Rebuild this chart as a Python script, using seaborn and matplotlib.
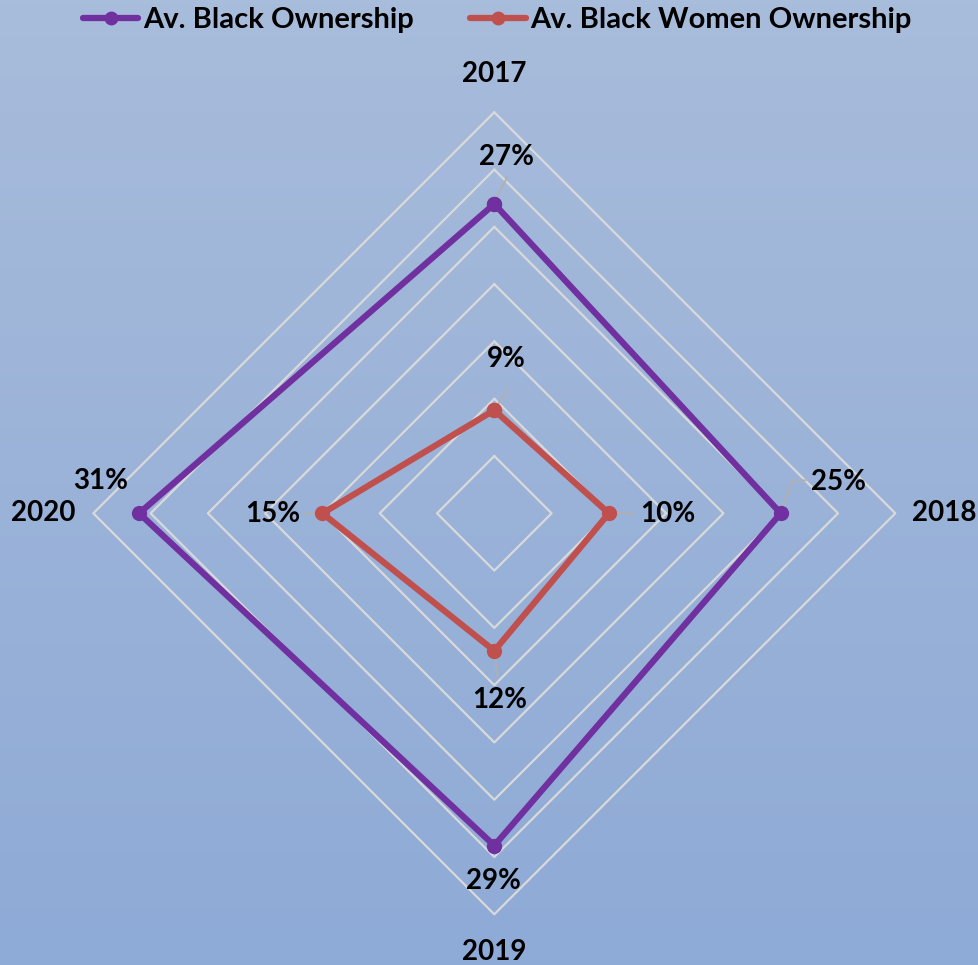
import numpy as np
import pandas as pd
import matplotlib
matplotlib.use("Agg")
import matplotlib.pyplot as plt
import seaborn as sns
from matplotlib.lines import Line2D
from matplotlib.colors import LinearSegmentedColormap

# chart data
years = ["2017", "2018", "2019", "2020"]
black_ownership = [0.27, 0.25, 0.29, 0.31]
black_women_ownership = [0.09, 0.10, 0.12, 0.15]
series_names = ["Av. Black Ownership", "Av. Black Women Ownership"]
grid_levels = [0.05, 0.10, 0.15, 0.20, 0.25, 0.30, 0.35]

sns.set_theme(style="white")
plt.rcParams['font.family'] = ['Lato', 'DejaVu Sans']
plt.rcParams['text.color'] = 'black'

W, H = 979, 965
CX, CY = 494.3, 513.3          # centre of radar in pixels (from top-left)
K = 401 / 0.35                 # pixels per unit of value

fig = plt.figure(figsize=(W / 100, H / 100), dpi=100)

# background gradient
bg = fig.add_axes([0, 0, 1, 1], zorder=0)
cmap = LinearSegmentedColormap.from_list("bg", ["#a8bcdb", "#8eaad6"])
bg.imshow(np.linspace(0, 1, 256).reshape(-1, 1), aspect="auto", cmap=cmap,
          extent=[0, 1, 0, 1])
bg.set_axis_off()

ax = fig.add_axes([0, 0, 1, 1], zorder=1)
ax.patch.set_alpha(0)
ax.set_xlim(-CX / K, (W - CX) / K)
ax.set_ylim(-(H - CY) / K, CY / K)
ax.set_axis_off()

# angles: 2017 top, then clockwise
angles = np.pi / 2 - np.arange(len(years)) * 2 * np.pi / len(years)


def to_xy(vals):
    v = np.asarray(vals)
    return v * np.cos(angles), v * np.sin(angles)


# diamond grid
for lv in grid_levels:
    gx, gy = to_xy([lv] * len(years))
    ax.plot(np.append(gx, gx[0]), np.append(gy, gy[0]), color="#d9d9d9",
            lw=1.6, zorder=1)

# build long table for seaborn (closed polygons)
rows = []
for name, vals in zip(series_names, [black_ownership, black_women_ownership]):
    xs, ys = to_xy(vals)
    for i in list(range(len(years))) + [0]:
        rows.append({"series": name, "year": years[i], "value": vals[i],
                     "x": xs[i], "y": ys[i]})
df = pd.DataFrame(rows)

palette = {"Av. Black Ownership": "#7030a0",
           "Av. Black Women Ownership": "#c0504d"}

sns.lineplot(data=df, x="x", y="y", hue="series", sort=False, estimator=None,
             palette=palette, marker="o", markersize=11, markeredgewidth=0,
             lw=4.5, ax=ax, zorder=3, legend=False)

# category labels outside the grid (offsets in pixels)
cat_offsets = [(0, 38), (49, 0), (0, -38), (-50, 0)]
ox, oy = to_xy([0.35] * len(years))
for i, yr in enumerate(years):
    dx, dy = cat_offsets[i]
    ax.text(ox[i] + dx / K, oy[i] + dy / K, yr, ha="center", va="center",
            fontsize=20, fontweight="bold", color="black", zorder=5)

# data labels: (label offset px, leader points px)
label_style = {
    "Av. Black Ownership": [
        ((12, 47), [(1, 4), (13, 27)]),
        ((58, 31), [(-1, 0), (12, 33), (25, 33)]),
        ((-1, -35), None),
        ((-38, 32), None),
    ],
    "Av. Black Women Ownership": [
        ((12, 51), [(1, 2), (13, 20)]),
        ((59, -1), [(-2, 0), (24, 0)]),
        ((5, -49), [(0, 0), (3, -26)]),
        ((-50, -1), [(0, 0), (-17, 0)]),
    ],
}
for name, vals in zip(series_names, [black_ownership, black_women_ownership]):
    xs, ys = to_xy(vals)
    for i, v in enumerate(vals):
        (dx, dy), leader = label_style[name][i]
        if leader:
            lx = [xs[i] + p[0] / K for p in leader]
            ly = [ys[i] + p[1] / K for p in leader]
            ax.plot(lx, ly, color="#b0b0b0", lw=1.3, zorder=2)
        ax.text(xs[i] + dx / K, ys[i] + dy / K, f"{v:.0%}", ha="center",
                va="center", fontsize=20, fontweight="bold", color="black",
                zorder=5)

# legend on top
handles = [Line2D([], [], color=palette[n], lw=4.5, marker="o", markersize=10,
                  markeredgewidth=0) for n in series_names]
leg = fig.legend(handles, series_names, loc="center", ncol=2,
                 bbox_to_anchor=(0.508, 1 - 20 / H), frameon=False,
                 handlelength=1.9, handletextpad=0.15, columnspacing=1.95,
                 labelcolor="black", prop={"size": 21, "weight": "bold"})

fig.savefig("out.png", dpi=100)
